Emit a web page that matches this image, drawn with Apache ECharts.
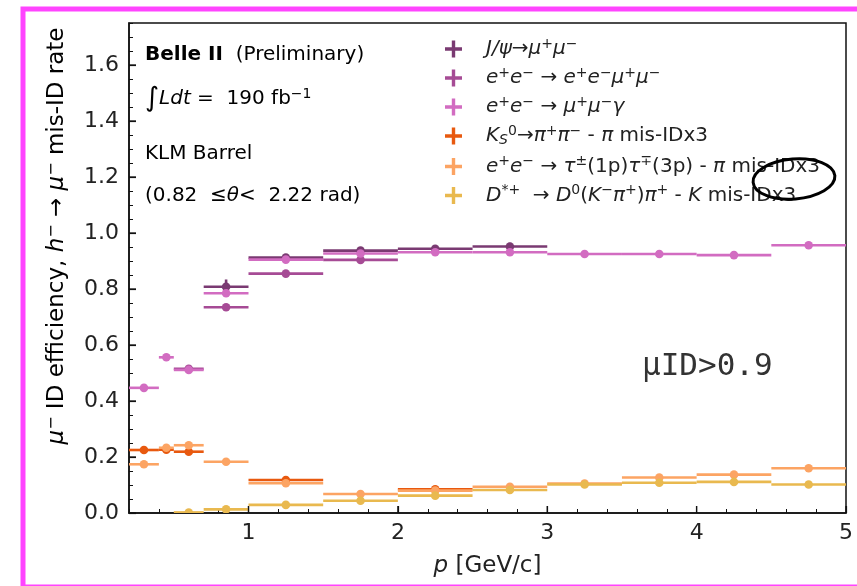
<!DOCTYPE html>
<html>
<head>
<meta charset="utf-8">
<script src="https://cdn.jsdelivr.net/npm/echarts@6/dist/echarts.min.js"></script>
<style>
html,body{margin:0;padding:0;background:#fff;}
#chart{width:857px;height:586px;}
</style>
</head>
<body>
<div id="chart"></div>
<script>
// ---- data ----
const binEdges = [0.2, 0.4, 0.5, 0.7, 1.0, 1.5, 2.0, 2.5, 3.0, 3.5, 4.0, 4.5, 5.0];
const jpsi      = [null, null, null, 0.808, 0.912, 0.937, 0.944, 0.952, null, null, null, null];
const jpsiErr   = [0, 0, 0, 0.026, 0.006, 0.006, 0.006, 0.013, 0, 0, 0, 0];
const eemumu    = [null, null, 0.515, 0.735, 0.855, 0.904, null, null, null, null, null, null];
const mumugamma = [0.447, 0.556, 0.511, 0.785, 0.905, 0.927, 0.931, 0.931, 0.925, 0.925, 0.921, 0.956];
const ks        = [0.225, 0.226, 0.219, null, 0.118, null, 0.085, null, null, null, null, null];
const tau       = [0.174, 0.233, 0.242, 0.183, 0.106, 0.068, 0.080, 0.094, 0.105, 0.127, 0.137, 0.160];
const dstar     = [null, null, 0.002, 0.013, 0.029, 0.044, 0.062, 0.082, 0.102, 0.108, 0.111, 0.102];
const defaultErr = 0.005;
const xTickLabels = [1, 2, 3, 4, 5];
const yTickLabels = [0, 0.2, 0.4, 0.6, 0.8, 1.0, 1.2, 1.4, 1.6];

const seriesNames = ['jpsi', 'eemumu', 'mumugamma', 'ks', 'tau', 'dstar'];
const seriesValues = { jpsi, eemumu, mumugamma, ks, tau, dstar };
const seriesErrs = { jpsi: jpsiErr };
const colors = {
  jpsi: '#7a3a72', eemumu: '#a64b95', mumugamma: '#d26cc1',
  ks: '#e8590f', tau: '#fca463', dstar: '#e9b94f'
};
const legendLabels = {
  jpsi: '{i|J/ψ}{n|→}{i|μ}{sp|+}{i|μ}{sp|−}',
  eemumu: '{i|e}{sp|+}{i|e}{sp|−}{n| → }{i|e}{sp|+}{i|e}{sp|−}{i|μ}{sp|+}{i|μ}{sp|−}',
  mumugamma: '{i|e}{sp|+}{i|e}{sp|−}{n| → }{i|μ}{sp|+}{i|μ}{sp|−}{i|γ}',
  ks: '{i|K}{isb|S}{sp|0}{n|→}{i|π}{sp|+}{i|π}{sp|−}{n| - }{i|π}{n| mis-IDx3}',
  tau: '{i|e}{sp|+}{i|e}{sp|−}{n| → }{i|τ}{sp|±}{n|(1p)}{i|τ}{sp|∓}{n|(3p) - }{i|π}{n| mis-IDx3}',
  dstar: '{i|D}{sp|*+}{n|  → }{i|D}{sp|0}{n|(}{i|K}{sp|−}{i|π}{sp|+}{n|)}{i|π}{sp|+}{n| - }{i|K}{n| mis-IDx3}'
};

const FONT = 'DejaVu Sans';
const richStyles = {
  n:  { fontFamily: FONT, fontSize: 20, color: '#222' },
  i:  { fontFamily: FONT, fontSize: 20, fontStyle: 'italic', color: '#222' },
  sp: { fontFamily: FONT, fontSize: 14, color: '#222', padding: [0, 0, 10, 0] },
  isb:{ fontFamily: FONT, fontSize: 14, fontStyle: 'italic', color: '#222', padding: [9, 0, 0, 0] },
  big:{ fontFamily: FONT, fontSize: 27, color: '#222' },
  b:  { fontFamily: FONT, fontSize: 20, fontWeight: 'bold', color: '#222' }
};
const axisRich = {
  n: { fontFamily: FONT, fontSize: 23, color: '#222' },
  i: { fontFamily: FONT, fontSize: 23, fontStyle: 'italic', color: '#222' },
  sp: { fontFamily: FONT, fontSize: 16, color: '#222', padding: [0, 0, 11, 0] }
};

function buildData(name) {
  const vals = seriesValues[name];
  const errs = seriesErrs[name];
  const out = [];
  vals.forEach((v, i) => {
    if (v === null) return;
    out.push([binEdges[i], binEdges[i + 1], v, errs ? errs[i] : defaultErr]);
  });
  return out;
}

function makeRenderer(color) {
  return function (params, api) {
    const lo = api.value(0), hi = api.value(1), y = api.value(2), e = api.value(3);
    const xc = (lo + hi) / 2;
    const p0 = api.coord([lo, y]), p1 = api.coord([hi, y]);
    const c = api.coord([xc, y]);
    const t = api.coord([xc, y + e]), b = api.coord([xc, y - e]);
    return {
      type: 'group',
      children: [
        { type: 'line', shape: { x1: p0[0], y1: p0[1], x2: p1[0], y2: p1[1] }, style: { stroke: color, lineWidth: 2.6 } },
        { type: 'line', shape: { x1: c[0], y1: t[1], x2: c[0], y2: b[1] }, style: { stroke: color, lineWidth: 2.6 } },
        { type: 'circle', shape: { cx: c[0], cy: c[1], r: 4.3 }, style: { fill: color } }
      ]
    };
  };
}

const plusIcon = 'path://M4,0 H6 V4 H10 V6 H6 V10 H4 V6 H0 V4 H4 Z';

const series = seriesNames.map(name => ({
  name: name,
  type: 'custom',
  xAxisIndex: 0,
  yAxisIndex: 0,
  clip: true,
  itemStyle: { color: colors[name] },
  encode: { x: [0, 1], y: 2 },
  renderItem: makeRenderer(colors[name]),
  data: buildData(name)
}));

const tickFont = { fontFamily: FONT, fontSize: 22, color: '#222' };

const baseGraphic = [
  { id: 'frame', type: 'rect', shape: { x: 23, y: 9, width: 850, height: 578 },
    style: { fill: 'none', stroke: '#ff44ff', lineWidth: 5 }, silent: true },
  { id: 'ylab', type: 'text', x: 57, y: 236, rotation: Math.PI / 2,
    style: { text: '{i|μ}{sp|−}{n| ID efficiency, }{i|h}{sp|−}{n| → }{i|μ}{sp|−}{n| mis-ID rate}',
             rich: axisRich, align: 'center', verticalAlign: 'middle' } },
  { id: 't1', type: 'text', x: 145, y: 55,
    style: { text: '{b|Belle II}{n|  (Preliminary)}', rich: richStyles, verticalAlign: 'middle' } },
  { id: 't2', type: 'text', x: 145, y: 99,
    style: { text: '{big|∫}{i|Ldt}{n| =  190 fb}{sp|−1}', rich: richStyles, verticalAlign: 'middle' } },
  { id: 't3', type: 'text', x: 145, y: 154,
    style: { text: '{n|KLM Barrel}', rich: richStyles, verticalAlign: 'middle' } },
  { id: 't4', type: 'text', x: 145, y: 196,
    style: { text: '{n|(0.82  ≤}{i|θ}{n|<  2.22 rad)}', rich: richStyles, verticalAlign: 'middle' } },
  { id: 'cut', type: 'text', x: 642, y: 367,
    style: { text: 'μID>0.9', fontFamily: 'DejaVu Sans Mono', fontSize: 31, fill: '#333', verticalAlign: 'middle' } },
  { id: 'ring', type: 'ellipse', x: 794, y: 179, rotation: 0.08,
    shape: { cx: 0, cy: 0, rx: 41, ry: 20 },
    style: { fill: 'none', stroke: '#000', lineWidth: 3 }, z: 100 }
];

const option = {
  animation: false,
  backgroundColor: '#fff',
  grid: {
    left: 129, right: 11, top: 23, bottom: 73,
    show: true, borderColor: '#111', borderWidth: 1.5, backgroundColor: 'transparent'
  },
  xAxis: [
    {
      type: 'value', min: 0.2, max: 5, position: 'bottom',
      axisLine: { show: true, onZero: false, lineStyle: { color: '#111', width: 1.5 } },
      axisTick: { show: true, inside: true, length: 7, customValues: xTickLabels, lineStyle: { color: '#111', width: 1.2 } },
      axisLabel: Object.assign({ customValues: xTickLabels, margin: 9, formatter: v => String(Math.round(v)) }, tickFont),
      splitLine: { show: false },
      name: '{i|p}{n| [GeV/c]}',
      nameLocation: 'middle', nameGap: 42,
      nameTextStyle: { rich: axisRich }
    },
    {
      type: 'value', min: 0.2, max: 5, interval: 0.2, position: 'bottom',
      axisLine: { show: false },
      axisTick: { show: true, inside: true, length: 4, lineStyle: { color: '#111', width: 1 } },
      axisLabel: { show: false },
      splitLine: { show: false }
    }
  ],
  yAxis: [
    {
      type: 'value', min: 0, max: 1.75, position: 'left',
      axisLine: { show: true, onZero: false, lineStyle: { color: '#111', width: 1.5 } },
      axisTick: { show: true, inside: true, length: 7, customValues: yTickLabels, lineStyle: { color: '#111', width: 1.2 } },
      axisLabel: Object.assign({ customValues: yTickLabels, margin: 10, formatter: v => v.toFixed(1) }, tickFont),
      splitLine: { show: false }
    },
    {
      type: 'value', min: 0, max: 1.75, interval: 0.05, position: 'left',
      axisLine: { show: false },
      axisTick: { show: true, inside: true, length: 4, lineStyle: { color: '#111', width: 1 } },
      axisLabel: { show: false },
      splitLine: { show: false }
    }
  ],
  legend: {
    orient: 'vertical',
    left: 440, top: 32,
    itemWidth: 17, itemHeight: 17,
    itemGap: 7,
    data: seriesNames.map(n => ({ name: n, icon: plusIcon })),
    formatter: name => legendLabels[name],
    textStyle: { rich: richStyles, padding: [0, 0, 0, 19] },
    selectedMode: false
  },
  graphic: baseGraphic,
  series: series
};

const chart = echarts.init(document.getElementById('chart'), null, { renderer: 'canvas' });
chart.setOption(option);

// major ticks placed through the axes' own scales
const tickEls = [];
xTickLabels.forEach((v, k) => {
  const p = chart.convertToPixel({ xAxisIndex: 0, yAxisIndex: 0 }, [v, 0]);
  tickEls.push({ id: 'xt' + k, type: 'line', shape: { x1: p[0], y1: p[1], x2: p[0], y2: p[1] - 7 },
    style: { stroke: '#111', lineWidth: 1.3 }, z: 50 });
});
yTickLabels.forEach((v, k) => {
  const p = chart.convertToPixel({ xAxisIndex: 0, yAxisIndex: 0 }, [0.2, v]);
  tickEls.push({ id: 'yt' + k, type: 'line', shape: { x1: p[0], y1: p[1], x2: p[0] + 7, y2: p[1] },
    style: { stroke: '#111', lineWidth: 1.3 }, z: 50 });
});
chart.setOption({ graphic: baseGraphic.concat(tickEls) });
</script>
</body>
</html>
